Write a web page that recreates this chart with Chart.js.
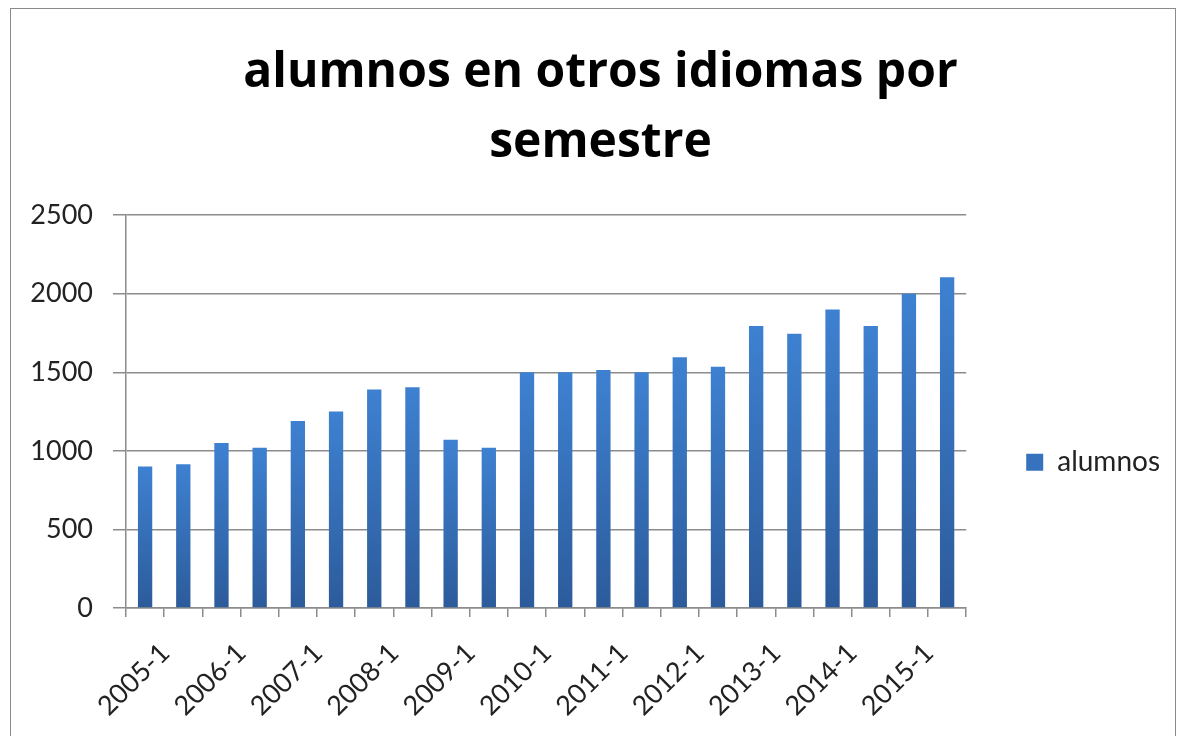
<!DOCTYPE html>
<html>
<head>
<meta charset="utf-8">
<script src="https://cdn.jsdelivr.net/npm/chart.js@4"></script>
<style>
  html, body { margin: 0; padding: 0; background: #fff; overflow: hidden; }
  #frame {
    position: absolute; left: 10px; top: 8px;
    width: 1166px; height: 740px;
    border: 1px solid #8a8a8a; box-sizing: border-box;
  }
  canvas { display: block; }
</style>
</head>
<body>
<div id="frame"><canvas id="myChart" width="1164" height="727"></canvas></div>
<script>
// semesters 2005-1 .. 2015-2
const semestres = [
  '2005-1','2005-2','2006-1','2006-2','2007-1','2007-2','2008-1','2008-2',
  '2009-1','2009-2','2010-1','2010-2','2011-1','2011-2','2012-1','2012-2',
  '2013-1','2013-2','2014-1','2014-2','2015-1','2015-2'
];
const alumnos = [
  900, 915, 1050, 1020, 1190, 1250, 1390, 1405,
  1070, 1020, 1500, 1500, 1515, 1500, 1595, 1535,
  1795, 1745, 1900, 1795, 2000, 2105
];
const yTicks = [0, 500, 1000, 1500, 2000, 2500];

const tickFont = 'Lato, "Open Sans", sans-serif';
const titleFont = '"Open Sans", Lato, sans-serif';

function barGradient(context) {
  const chart = context.chart;
  const yScale = chart.scales.y;
  if (!chart.chartArea || !yScale || context.parsed === undefined) return '#3a76c2';
  const top = yScale.getPixelForValue(context.parsed.y);
  const bottom = yScale.getPixelForValue(0);
  const g = chart.ctx.createLinearGradient(0, top, 0, bottom);
  g.addColorStop(0, '#3e81d1');
  g.addColorStop(1, '#2c5b9b');
  return g;
}

const ctx = document.getElementById('myChart');
new Chart(ctx, {
  type: 'bar',
  data: {
    labels: semestres,
    datasets: [{
      label: 'alumnos',
      data: alumnos,
      backgroundColor: barGradient,
      borderWidth: 0,
      categoryPercentage: 1,
      barPercentage: 0.375
    }]
  },
  options: {
    responsive: false,
    animation: false,
    layout: { padding: { left: 20, right: 5, top: 29, bottom: 0 } },
    plugins: {
      title: {
        display: true,
        text: ['alumnos en otros idiomas por', 'semestre'],
        color: '#000',
        font: { family: titleFont, size: 48, weight: 'bold', lineHeight: 1.46 },
        padding: { top: 0, bottom: 37 }
      },
      legend: {
        position: 'right',
        // empty legend title only pushes the entry down to the middle of the frame
        title: { display: true, text: ' ', padding: { top: 118, bottom: 0 }, font: { size: 27 } },
        labels: {
          color: '#222',
          font: { family: tickFont, size: 28 },
          boxWidth: 17,
          boxHeight: 17,
          padding: 60,
          generateLabels: function(chart) {
            return chart.data.datasets.map(function(ds, i) {
              return {
                text: ds.label,
                fillStyle: '#3672bd',
                strokeStyle: '#3672bd',
                fontColor: '#222',
                lineWidth: 0,
                datasetIndex: i
              };
            });
          }
        }
      },
      tooltip: { enabled: false }
    },
    scales: {
      x: {
        afterFit: function(scale) { scale.height = 128; },
        grid: {
          display: true,
          drawOnChartArea: false,
          drawTicks: true,
          tickLength: 9,
          color: '#8c8c8c',
          lineWidth: 1.5
        },
        border: { color: '#8c8c8c', width: 1.5 },
        ticks: {
          autoSkip: false,
          minRotation: 45,
          maxRotation: 45,
          padding: 20,
          labelOffset: 20,
          color: '#222',
          font: { family: tickFont, size: 27 },
          callback: function(value, index) {
            return index % 2 === 0 ? semestres[index] : '';
          }
        }
      },
      y: {
        min: 0,
        max: 2500,
        afterFit: function(scale) { scale.width = 95; },
        afterBuildTicks: function(scale) {
          scale.ticks = yTicks.map(function(v) { return { value: v }; });
        },
        grid: {
          color: '#8c8c8c',
          lineWidth: 1.5,
          tickLength: 13
        },
        border: { color: '#8c8c8c', width: 1.5 },
        ticks: {
          color: '#222',
          padding: 20,
          font: { family: tickFont, size: 27 },
          callback: function(value) { return String(value); }
        }
      }
    }
  }
});
</script>
</body>
</html>
